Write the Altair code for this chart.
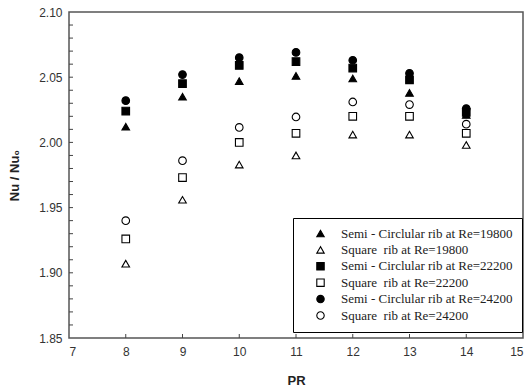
import altair as alt
import pandas as pd

# ---- data ----
pr = [8, 9, 10, 11, 12, 13, 14]
semi_19800 = [2.012, 2.035, 2.047, 2.051, 2.049, 2.038, 2.021]
square_19800 = [1.907, 1.956, 1.983, 1.990, 2.006, 2.006, 1.998]
semi_22200 = [2.024, 2.045, 2.059, 2.062, 2.057, 2.048, 2.023]
square_22200 = [1.926, 1.973, 2.000, 2.007, 2.020, 2.020, 2.007]
semi_24200 = [2.032, 2.052, 2.065, 2.069, 2.063, 2.053, 2.026]
square_24200 = [1.940, 1.986, 2.0115, 2.0195, 2.031, 2.029, 2.014]

series_names = [
    "Semi - Circlular rib at Re=19800",
    "Square\u00a0 rib at Re=19800",
    "Semi - Circlular rib at Re=22200",
    "Square\u00a0 rib at Re=22200",
    "Semi - Circlular rib at Re=24200",
    "Square\u00a0 rib at Re=24200",
]
series_values = [semi_19800, square_19800, semi_22200, square_22200, semi_24200, square_24200]
series_shapes = ["triangle-up", "triangle-up", "square", "square", "circle", "circle"]
series_fills = ["black", "white", "black", "white", "black", "white"]
series_strokes = ["black"] * 6

x_ticks = [7, 8, 9, 10, 11, 12, 13, 14, 15]
y_ticks = [1.85, 1.90, 1.95, 2.00, 2.05, 2.10]
y_minor = [round(1.86 + 0.01 * i, 2) for i in range(24)]
x_minor = [8, 9, 10, 11, 12, 13, 14]

rows = []
for name, vals in zip(series_names, series_values):
    for p, v in zip(pr, vals):
        rows.append({"PR": p, "Nu": v, "series": name})
df = pd.DataFrame(rows)

xscale = alt.Scale(domain=[7, 15], nice=False, zero=False)
yscale = alt.Scale(domain=[1.85, 2.10], nice=False, zero=False)

legend = alt.Legend(title=None, orient="none", legendX=224, legendY=206,
                    strokeColor="black", fillColor="white", padding=9,
                    labelFont="Liberation Serif", labelFontSize=13, labelColor="#222",
                    symbolSize=55, symbolStrokeColor="black", symbolStrokeWidth=1.1,
                    symbolOffset=12, labelOffset=14, rowPadding=2.4,
                    labelLimit=400)

points = alt.Chart(df).mark_point(filled=False, size=58, strokeWidth=1.1, opacity=1).encode(
    x=alt.X("PR:Q", scale=xscale,
            axis=alt.Axis(values=x_ticks, format="d", title="PR", ticks=False, domain=False, grid=False,
                          labelPadding=8, titlePadding=17)),
    y=alt.Y("Nu:Q", scale=yscale,
            axis=alt.Axis(values=y_ticks, format=".2f", title="Nu / Nu\u2080", ticks=False, domain=False,
                          grid=False, labelPadding=7, titlePadding=17)),
    shape=alt.Shape("series:N", scale=alt.Scale(domain=series_names, range=series_shapes), legend=legend),
    fill=alt.Fill("series:N", scale=alt.Scale(domain=series_names, range=series_fills), legend=legend),
    stroke=alt.Stroke("series:N", scale=alt.Scale(domain=series_names, range=series_strokes), legend=legend),
)

ytick_df = pd.DataFrame({"v": y_minor})
xtick_df = pd.DataFrame({"v": x_minor})

yticks = alt.Chart(ytick_df).mark_rule(color="#444", strokeWidth=1).encode(
    y=alt.Y("v:Q", scale=yscale), x=alt.value(0), x2=alt.value(4)
)
xticks = alt.Chart(xtick_df).mark_rule(color="#444", strokeWidth=1).encode(
    x=alt.X("v:Q", scale=xscale), y=alt.value(326), y2=alt.value(322)
)

chart = alt.layer(yticks, xticks, points).properties(
    width=454, height=326,
    autosize=alt.AutoSizeParams(type="none"),
    padding={"left": 69, "top": 12, "right": 6, "bottom": 52},
).configure_view(
    stroke="#555", strokeWidth=1.5
).configure_axis(
    labelFont="Liberation Sans", labelFontSize=12, labelColor="#333",
    titleFont="Liberation Sans", titleFontSize=13, titleFontWeight="bold", titleColor="#222",
)

chart.save("out.html", embed_options={"renderer": "svg", "actions": False})
